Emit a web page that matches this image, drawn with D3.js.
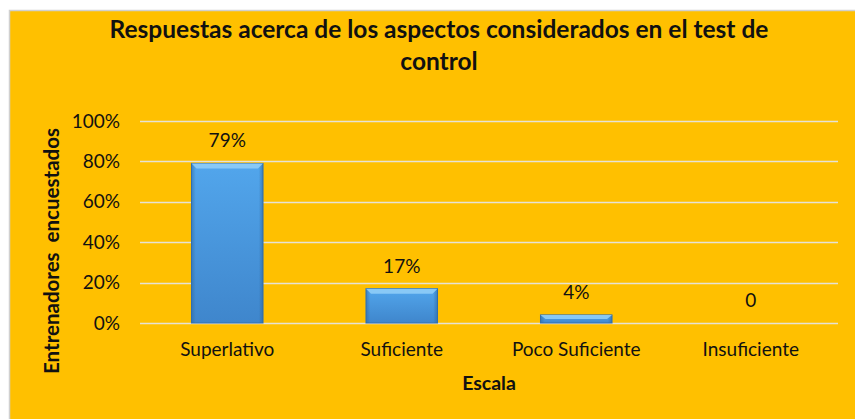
<!DOCTYPE html>
<html>
<head>
<meta charset="utf-8">
<script src="https://cdn.jsdelivr.net/npm/d3@7"></script>
<style>
  body { margin: 0; background: #fff; }
  text { font-family: Lato, "Open Sans", sans-serif; fill: #111; }
</style>
</head>
<body>
<svg id="chart" width="855" height="419"></svg>
<script>
// donnees du graphique
const categories = ["Superlativo", "Suficiente", "Poco Suficiente", "Insuficiente"];
const valeurs = [0.79, 0.17, 0.04, 0];
const etiquettes = ["79%", "17%", "4%", "0"];
const ticksY = [0, 0.2, 0.4, 0.6, 0.8, 1.0];

const titre1 = "Respuestas acerca de los aspectos considerados en el test de";
const titre2 = "control";
const titreX = "Escala";
const titreY = "Entrenadores  encuestados";

const svg = d3.select("#chart");

// fond orange
svg.append("rect")
    .attr("x", 9.5).attr("y", 10.5)
    .attr("width", 850).attr("height", 415)
    .attr("fill", "#FFC000")
    .attr("stroke", "#d0d0d0")
    .attr("stroke-width", 1.5);

const margin = {left: 140, right: 17, top: 121, bottom: 96};
const width = 855 - margin.left - margin.right;
const height = 419 - margin.top - margin.bottom;

const x = d3.scaleBand()
    .domain(categories)
    .range([margin.left, margin.left + width])
    .paddingInner(0.59)
    .paddingOuter(0.295);

const y = d3.scaleLinear()
    .domain([0, 1])
    .range([margin.top + height, margin.top]);

// degrade des barres
const defs = svg.append("defs");
const grad = defs.append("linearGradient").attr("id", "gradBarre")
    .attr("x1", 0).attr("y1", 0).attr("x2", 0).attr("y2", 1);
grad.append("stop").attr("offset", "0%").attr("stop-color", "#52a6ec");
grad.append("stop").attr("offset", "100%").attr("stop-color", "#3f86cc");

const gradCote = defs.append("linearGradient").attr("id", "gradCote")
    .attr("x1", 0).attr("y1", 0).attr("x2", 1).attr("y2", 0);
gradCote.append("stop").attr("offset", "0%").attr("stop-color", "#2d679f").attr("stop-opacity", 0.55);
gradCote.append("stop").attr("offset", "6%").attr("stop-color", "#2d679f").attr("stop-opacity", 0);
gradCote.append("stop").attr("offset", "94%").attr("stop-color", "#2d679f").attr("stop-opacity", 0);
gradCote.append("stop").attr("offset", "100%").attr("stop-color", "#2d679f").attr("stop-opacity", 0.6);

// grille
svg.append("g")
    .selectAll("line")
    .data(ticksY)
    .enter()
    .append("line")
    .attr("x1", margin.left)
    .attr("x2", margin.left + width)
    .attr("y1", d => Math.round(y(d)) + 0.5)
    .attr("y2", d => Math.round(y(d)) + 0.5)
    .attr("stroke", "#e6e2d6")
    .attr("stroke-width", 1.5);

// axe Y
const axeY = d3.axisLeft(y)
    .tickValues(ticksY)
    .tickFormat(d => Math.round(d * 100) + "%")
    .tickSize(0)
    .tickPadding(20);
const gY = svg.append("g")
    .attr("transform", `translate(${margin.left},0)`)
    .call(axeY);
gY.select(".domain").remove();
gY.selectAll("text")
    .style("font-size", "19px")
    .style("font-family", "Lato, sans-serif")
    .attr("fill", "#111");

// axe X
const axeX = d3.axisBottom(x).tickSize(0).tickPadding(20);
const gX = svg.append("g")
    .attr("transform", `translate(0,${margin.top + height})`)
    .call(axeX);
gX.select(".domain").remove();
gX.selectAll("text")
    .style("font-size", "19px")
    .style("font-family", "Lato, sans-serif")
    .attr("fill", "#111");

// barres
const barres = svg.append("g")
    .selectAll("g")
    .data(valeurs)
    .enter()
    .append("g");

barres.append("rect")
    .attr("x", (d, i) => x(categories[i]))
    .attr("y", d => y(d))
    .attr("width", x.bandwidth())
    .attr("height", d => y(0) - y(d))
    .attr("fill", "url(#gradBarre)")
    .attr("stroke", "#3572b0")
    .attr("stroke-width", d => d > 0 ? 1 : 0);

barres.append("rect")
    .attr("x", (d, i) => x(categories[i]))
    .attr("y", d => y(d))
    .attr("width", x.bandwidth())
    .attr("height", d => y(0) - y(d))
    .attr("fill", "url(#gradCote)");

// reflet en haut des barres
barres.filter(d => d > 0).append("path")
    .attr("d", (d, i) => {
        const x0 = x(categories[i]), x1 = x0 + x.bandwidth(), t = y(d);
        const h = Math.min(5, (y(0) - t) / 2);
        return `M${x0},${t}L${x1},${t}L${x1 - 5},${t + h}L${x0 + 5},${t + h}Z`;
    })
    .attr("fill", "#8fcdf7")
    .attr("opacity", 0.9);

// etiquettes de valeurs
svg.append("g")
    .selectAll("text")
    .data(valeurs)
    .enter()
    .append("text")
    .attr("x", (d, i) => x(categories[i]) + x.bandwidth() / 2)
    .attr("y", d => y(d) - 16)
    .attr("text-anchor", "middle")
    .style("font-size", "19px")
    .text((d, i) => etiquettes[i]);

// titre
svg.append("text")
    .attr("x", 439).attr("y", 38)
    .attr("text-anchor", "middle")
    .style("font-size", "24.5px")
    .style("font-weight", "bold")
    .text(titre1);
svg.append("text")
    .attr("x", 439).attr("y", 70)
    .attr("text-anchor", "middle")
    .style("font-size", "24.5px")
    .style("font-weight", "bold")
    .text(titre2);

// titres des axes
svg.append("text")
    .attr("x", margin.left + width / 2).attr("y", 390)
    .attr("text-anchor", "middle")
    .style("font-size", "19.5px")
    .style("font-weight", "bold")
    .text(titreX);

svg.append("text")
    .attr("transform", "translate(59,251) rotate(-90)")
    .attr("text-anchor", "middle")
    .style("font-size", "20.5px")
    .style("font-weight", "bold")
    .style("white-space", "pre")
    .text(titreY);
</script>
</body>
</html>
